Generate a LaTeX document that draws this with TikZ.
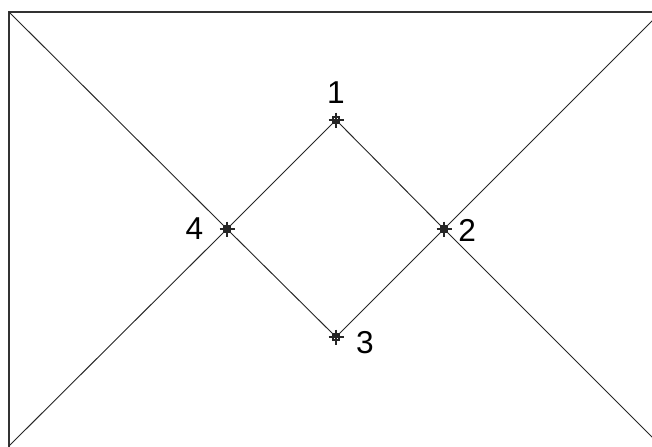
\documentclass[tikz,border=0pt]{standalone}
\usepackage{fontspec}
\setmainfont{Liberation Sans}
\usetikzlibrary{positioning}
\tikzset{
  target/.pic={
    \draw[line width=0.9pt,black!85] (-7.5,0) -- (7.5,0) (0,-7.5) -- (0,7.5);
    \draw[line width=0.9pt,black!85] (-3,-3) rectangle (3,3);
  },
  num/.style={font=\fontsize{27}{32}\selectfont, inner sep=1pt}
}
\begin{document}
\begin{tikzpicture}[x=0.03cm,y=-0.03cm]
\useasboundingbox (0,0) rectangle (652,446);
\clip (0,0) rectangle (652,446);
% Frame corners
\coordinate (tl) at (9,12);
\coordinate (tr) at (661,12);
\coordinate (bl) at (9,446);
\coordinate (br) at (661,446);
\draw[line width=1.1pt,black!80] (9,12) rectangle (664,450);
% Diamond points
\coordinate (p1) at (336,120);
\coordinate (p2) at (444,229);
\coordinate (p3) at (336,337);
\coordinate (p4) at (227,229);
% Lines
\draw[line width=0.8pt,black!85] (tl) -- (p4) -- (p3)
  (bl) -- (p4) -- (p1)
  (tr) -- (p2) -- (p3)
  (p1) -- (p2) -- (br);
% Markers
\foreach \p in {p1,p2,p3,p4} \pic at (\p) {target};
% Labels
\node[num, above=12.5pt of p1] (l1) {1};
\node[num, right=11pt of p2, yshift=-1pt] (l2) {2};
\node[num, right=16pt of p3, yshift=-4.7pt] (l3) {3};
\node[num, left=19pt of p4] (l4) {4};
\end{tikzpicture}
\end{document}
